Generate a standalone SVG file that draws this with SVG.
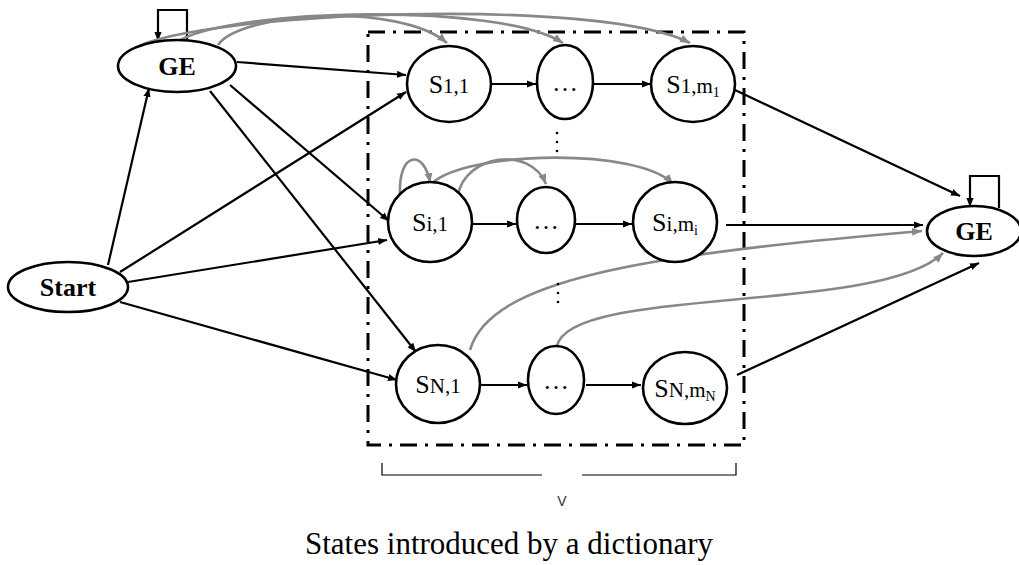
<svg xmlns="http://www.w3.org/2000/svg" width="1019" height="565" viewBox="0 0 1019 565">
<style>
.node{fill:#fff;stroke:#000;stroke-width:2.6}
.e{fill:none;stroke:#000;stroke-width:2.2}
.g{fill:none;stroke:#888;stroke-width:2.6}
.lbl{font-family:"Liberation Serif","Times New Roman",serif;font-size:26px;fill:#000;text-anchor:middle}
.b{font-weight:bold}
.sub{font-size:21px}
.box{fill:none;stroke:#000;stroke-width:3;stroke-dasharray:17,8,3,8}
</style>
<defs>
<marker id="ab" viewBox="0 0 10 10" refX="10" refY="5" markerWidth="9" markerHeight="9" markerUnits="userSpaceOnUse" orient="auto"><path d="M0,1 L10,5 L0,9 z" fill="#000"/></marker>
<marker id="ag" viewBox="0 0 10 10" refX="10" refY="5" markerWidth="10" markerHeight="10" markerUnits="userSpaceOnUse" orient="auto"><path d="M0,1 L10,5 L0,9 z" fill="#888"/></marker>
</defs>
<rect class="box" x="368" y="32" width="376" height="413"/>
<g id="connectors">
<path class="e" d="M108,265 L149,88" marker-end="url(#ab)"/>
<path class="e" d="M120,272 L406,92" marker-end="url(#ab)"/>
<path class="e" d="M128,282 L387,240" marker-end="url(#ab)"/>
<path class="e" d="M120,302 L397,380" marker-end="url(#ab)"/>
<path class="e" d="M237,62 L406,75" marker-end="url(#ab)"/>
<path class="e" d="M230,85 L389,221" marker-end="url(#ab)"/>
<path class="e" d="M210,91 L416,352" marker-end="url(#ab)"/>
<path class="e" d="M187,42 L187,10 L158,10 L158,41" marker-end="url(#ab)"/>
<path class="e" d="M999,208 L999,176 L970,176 L970,207" marker-end="url(#ab)"/>
<path class="e" d="M492,84 L536,84" marker-end="url(#ab)"/>
<path class="e" d="M593,84 L651,84" stroke-width="2.6" marker-end="url(#ab)"/>
<path class="e" d="M472,224 L516,224" marker-end="url(#ab)"/>
<path class="e" d="M575,224 L632,224" marker-end="url(#ab)"/>
<path class="e" d="M481,385 L527,385" stroke-width="3" marker-end="url(#ab)"/>
<path class="e" d="M586,385 L641,385" marker-end="url(#ab)"/>
<path class="e" d="M735,90 L960,196" marker-end="url(#ab)"/>
<path class="e" d="M726,225 L923,225" marker-end="url(#ab)"/>
<path class="e" d="M737,375 L979,263" marker-end="url(#ab)"/>
<path class="g" d="M218,45 C240,12 400,2 447,43" marker-end="url(#ag)"/>
<path class="g" d="M177,42 C230,8 500,2 563,43" marker-end="url(#ag)"/>
<path class="g" d="M135,48 C200,12 600,-4 690,43" marker-end="url(#ag)"/>
<path class="g" d="M400,195 C398,150 425,150 430,183" marker-end="url(#ag)"/>
<path class="g" d="M458,195 C465,155 530,145 546,184" marker-end="url(#ag)"/>
<path class="g" d="M432,183 C470,150 640,148 673,184" marker-end="url(#ag)"/>
<path class="g" d="M470,350 C490,280 640,255 922,231" marker-end="url(#ag)"/>
<path class="g" d="M557,346 C570,285 880,315 943,253" marker-end="url(#ag)"/>
</g>
<g id="GE_left"><ellipse class="node" cx="177" cy="66" rx="59" ry="26"/><text class="lbl b" x="177" y="75">GE</text></g>
<g id="Start"><ellipse class="node" cx="68" cy="287" rx="60" ry="25"/><text class="lbl b" x="68" y="296">Start</text></g>
<g id="S_1_1"><ellipse class="node" cx="449" cy="84" rx="42" ry="38"/><text class="lbl" x="449" y="93">S<tspan class="sub">1,1</tspan></text></g>
<g id="D_1"><ellipse class="node" cx="565" cy="82" rx="28" ry="37"/><text class="lbl" x="565" y="91">…</text></g>
<g id="S_1_m"><ellipse class="node" cx="693" cy="84" rx="42" ry="38"/><text class="lbl" x="693" y="93">S<tspan class="sub">1,m</tspan><tspan font-size="14" dy="4">1</tspan></text></g>
<g id="S_i_1"><ellipse class="node" cx="430" cy="222" rx="42" ry="40"/><text class="lbl" x="430" y="231">S<tspan class="sub">i,1</tspan></text></g>
<g id="D_i"><ellipse class="node" cx="546" cy="220" rx="29" ry="33"/><text class="lbl" x="546" y="229">…</text></g>
<g id="S_i_m"><ellipse class="node" cx="675" cy="222" rx="42" ry="40"/><text class="lbl" x="675" y="231">S<tspan class="sub">i,m</tspan><tspan font-size="14" dy="4">i</tspan></text></g>
<g id="S_N_1"><ellipse class="node" cx="438" cy="384" rx="42" ry="39"/><text class="lbl" x="438" y="393">S<tspan class="sub">N,1</tspan></text></g>
<g id="D_N"><ellipse class="node" cx="556" cy="380" rx="28" ry="34"/><text class="lbl" x="556" y="389">…</text></g>
<g id="S_N_m"><ellipse class="node" cx="685" cy="388" rx="42" ry="36"/><text class="lbl" x="685" y="397">S<tspan class="sub">N,m</tspan><tspan font-size="14" dy="4">N</tspan></text></g>
<g id="GE_right"><ellipse class="node" cx="974" cy="231" rx="47" ry="25"/><text class="lbl b" x="974" y="240">GE</text></g>
<g id="dots" fill="#000">
<circle cx="557" cy="133" r="1.3"/><circle cx="557" cy="142" r="1.3"/><circle cx="557" cy="151" r="1.3"/>
<circle cx="558" cy="284" r="1.3"/><circle cx="558" cy="293" r="1.3"/><circle cx="558" cy="302" r="1.3"/>
</g>
<g id="bracket" fill="none" stroke="#000" stroke-width="1.2">
<path d="M382,463 L382,475 L542,475"/>
<path d="M582,475 L736,475 L736,463"/>
</g>
<text x="562" y="506" font-family="'Liberation Sans',Arial,sans-serif" font-size="14" fill="#333" text-anchor="middle">V</text>
<text class="lbl" x="509" y="554" style="font-size:31px">States introduced by a dictionary</text>
</svg>
